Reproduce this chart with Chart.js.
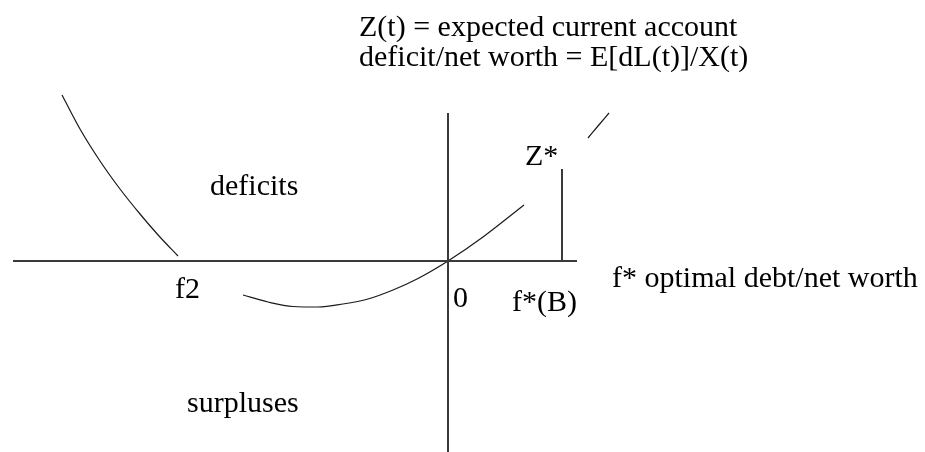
<!DOCTYPE html>
<html>
<head>
<meta charset="utf-8">
<script src="https://cdn.jsdelivr.net/npm/chart.js@4.4.1/dist/chart.umd.min.js"></script>
<style>
  body { margin: 0; background: #fff; }
  #wrap { width: 925px; height: 452px; }
</style>
</head>
<body>
<div id="wrap"><canvas id="diagram" width="925" height="452"></canvas></div>
<script>
// units: origin where the axes cross, 1 unit = 10px in the picture
const leftBranchX = [-38.6, -36.8, -34.8, -32.8, -30.8, -28.9, -27.0];
const leftBranchY = [16.6, 13.2, 10.0, 7.2, 4.7, 2.5, 0.5];

const midBranchX = [-20.5, -18, -15.5, -13, -10.5, -8, -5.5, -3, 0, 3.5, 7.6];
const midBranchY = [-3.4, -4.1, -4.55, -4.6, -4.3, -3.8, -2.9, -1.75, 0, 2.4, 5.6];

const rightBranchX = [14.0, 15.0, 16.1];
const rightBranchY = [12.3, 13.5, 14.8];

const hAxisX = [-43.5, 12.9];
const vAxisY = [14.8, -19.1];
const zStarX = 11.4;
const zStarY = 9.2;

const labelTexts = ['Z(t) = expected current account', 'deficit/net worth = E[dL(t)]/X(t)',
  'Z*', 'deficits', 'f2', '0', 'f*(B)', 'f* optimal debt/net worth', 'surpluses'];
const labelX = [-8.9, -8.9, 7.7, -23.8, -27.3, 0.5, 6.4, 16.4, -26.1];
const labelY = [22.5, 19.5, 9.6, 6.6, -3.7, -4.6, -5.0, -2.6, -15.1];

function pts(xs, ys) {
  return xs.map((x, i) => ({ x: x, y: ys[i] }));
}

function lineSet(data, color, width) {
  return { data: data, showLine: true, borderColor: color, borderWidth: width,
    pointRadius: 0, cubicInterpolationMode: 'monotone', fill: false };
}

// text labels drawn on top of the datasets
const labelPlugin = {
  id: 'labels',
  afterDatasetsDraw(chart) {
    const c = chart.ctx;
    c.save();
    c.fillStyle = '#000';
    c.font = '30px "Liberation Serif", "Times New Roman", serif';
    c.textBaseline = 'alphabetic';
    c.textAlign = 'left';
    labelTexts.forEach((t, i) => {
      c.fillText(t, chart.scales.x.getPixelForValue(labelX[i]), chart.scales.y.getPixelForValue(labelY[i]));
    });
    c.restore();
  }
};

const ctx = document.getElementById('diagram').getContext('2d');
new Chart(ctx, {
  type: 'scatter',
  data: {
    datasets: [
      lineSet(pts(hAxisX, [0, 0]), '#3a3a3a', 2),
      lineSet(pts([0, 0], vAxisY), '#3a3a3a', 2),
      lineSet(pts([zStarX, zStarX], [0, zStarY]), '#3a3a3a', 2),
      lineSet(pts(leftBranchX, leftBranchY), '#1a1a1a', 1.2),
      lineSet(pts(midBranchX, midBranchY), '#1a1a1a', 1.2),
      lineSet(pts(rightBranchX, rightBranchY), '#1a1a1a', 1.2)
    ]
  },
  options: {
    responsive: false,
    animation: false,
    layout: { padding: 0 },
    plugins: { legend: { display: false }, tooltip: { enabled: false } },
    scales: {
      x: { type: 'linear', min: -44.8, max: 47.7, display: false },
      y: { type: 'linear', min: -19.1, max: 26.1, display: false }
    }
  },
  plugins: [labelPlugin]
});
</script>
</body>
</html>
